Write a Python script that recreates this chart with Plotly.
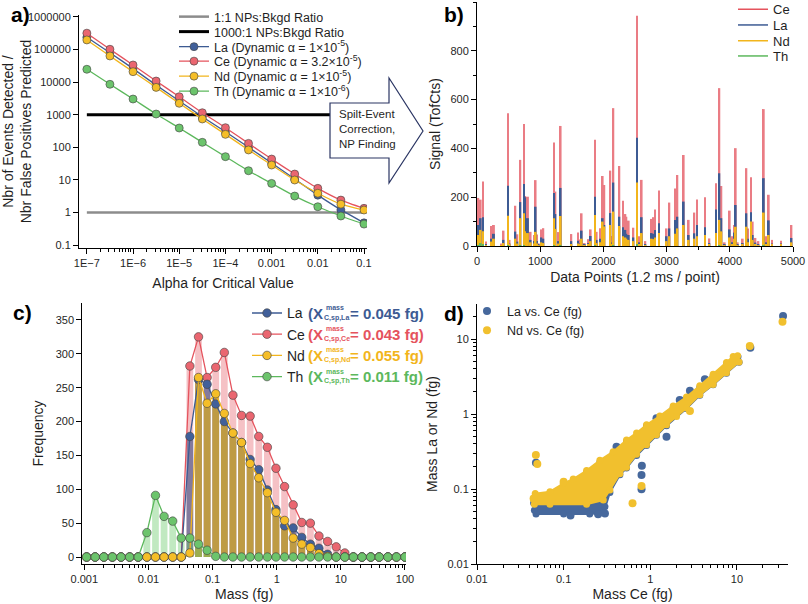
import numpy as np
import plotly.graph_objects as go

W, H = 808, 604
FONT = "Liberation Sans, Arial, sans-serif"
TXT = "#1f1f1f"


def PX(x):
    return x / W


def PY(y):
    return 1 - y / H


# ---------------- Panel a data ----------------
alpha = [1e-7, 3.16e-7, 1e-6, 3.16e-6, 1e-5, 3.16e-5, 1e-4, 3.16e-4, 1e-3, 3.16e-3, 1e-2, 3.16e-2, 1e-1]
a_la = [238000, 80000, 26000, 8100, 2650, 870, 300, 100, 33, 10.6, 3.4, 1.2, 0.48]
a_ce = [318000, 102000, 33600, 10800, 3570, 1150, 400, 132, 43.6, 15.1, 5.5, 2.4, 1.34]
a_nd = [197000, 63500, 20900, 6900, 2240, 740, 250, 83, 28.6, 9.9, 3.9, 1.8, 1.19]
a_th = [24800, 8570, 3030, 1050, 391, 142, 51.6, 19.1, 7.8, 3.19, 1.5, 0.78, 0.44]
ratio_vals = [1, 1000]
a_xticks = [1e-7, 1e-6, 1e-5, 1e-4, 1e-3, 1e-2, 1e-1]
a_xtext = ["1E\u22127", "1E\u22126", "1E\u22125", "1E\u22124", "0.001", "0.01", "0.1"]
a_yticks = [0.1, 1, 10, 100, 1000, 10000, 100000, 1000000]
a_ytext = ["0.1", "1", "10", "100", "1000", "10000", "100000", "1000000"]

# ---------------- Panel b data ----------------
b_x = [20, 58, 95, 142, 226, 268, 390, 420, 490, 515, 606, 638, 685, 743, 760, 806, 848, 901, 927, 950,
       975, 1017, 1049, 1218, 1240, 1292, 1323, 1492, 1598, 1629, 1655, 1703, 1767, 1798, 1867, 1893, 1946,
       1988, 2014, 2109, 2130, 2157, 2252, 2310, 2347, 2363, 2400, 2474, 2531, 2568, 2605, 2663, 2763, 2790,
       2816, 2879, 3000, 3043, 3133, 3170, 3270, 3349, 3438, 3481, 3607, 3676, 3782, 3834, 3866, 3919, 3998,
       4035, 4072, 4093, 4125, 4204, 4262, 4288, 4336, 4362, 4405, 4452, 4537, 4574, 4616, 4669, 4811, 4975]
b_ce = [197, 190, 264, 18, 82, 86, 10, 63, 544, 25, 165, 48, 353, 500, 205, 202, 58, 45, 270, 47,
        11, 68, 73, 424, 223, 57, 492, 49, 55, 27, 134, 12, 28, 68, 435, 58, 73,
        287, 250, 309, 41, 565, 328, 185, 131, 120, 104, 75, 944, 40, 271, 20, 111, 118,
        150, 227, 72, 178, 236, 291, 373, 107, 137, 191, 200, 31, 257, 647, 246, 15, 145,
        40, 86, 401, 15, 30, 319, 72, 282, 100, 33, 20, 561, 40, 210, 25, 22, 86]
b_la = [86, 114, 118, 8, 30, 50, 4, 25, 247, 10, 59, 18, 180, 254, 200, 114, 25, 20, 161, 20,
        5, 35, 30, 217, 131, 20, 238, 20, 22, 10, 63, 5, 12, 41, 202, 25, 30,
        114, 86, 135, 15, 260, 120, 77, 66, 50, 45, 35, 444, 15, 118, 8, 53, 50,
        66, 93, 40, 72, 107, 120, 182, 45, 52, 86, 77, 12, 150, 298, 114, 6, 68,
        15, 55, 168, 6, 12, 134, 30, 138, 45, 14, 8, 278, 15, 105, 10, 10, 33]
b_nd = [45, 66, 60, 4, 18, 30, 2, 12, 124, 6, 30, 10, 114, 134, 60, 53, 15, 10, 58, 10,
        3, 15, 12, 114, 70, 10, 123, 8, 10, 5, 30, 3, 6, 20, 127, 12, 15,
        100, 80, 86, 8, 141, 82, 40, 35, 30, 25, 20, 260, 8, 53, 4, 30, 28,
        35, 53, 20, 40, 50, 72, 86, 25, 30, 40, 45, 6, 53, 107, 60, 3, 35,
        8, 30, 79, 3, 6, 79, 15, 100, 25, 7, 4, 137, 8, 45, 5, 5, 15]
b_th = [4, 12, 8, 0, 0, 0, 0, 0, 3, 0, 0, 0, 2, 3, 0, 0, 0, 0, 0, 0,
        0, 0, 0, 2, 0, 0, 2, 0, 0, 0, 0, 0, 0, 0, 2, 0, 0,
        0, 0, 0, 0, 2, 0, 0, 0, 0, 0, 0, 5, 0, 0, 0, 0, 0,
        0, 0, 0, 0, 0, 0, 0, 0, 0, 0, 0, 0, 0, 3, 0, 0, 0,
        0, 0, 0, 0, 0, 0, 0, 0, 0, 0, 0, 2, 0, 0, 0, 0, 0]

# ---------------- Panel c data ----------------
c_mass = [0.001086, 0.001479, 0.002014, 0.002745, 0.00374, 0.00509, 0.00694, 0.00945, 0.01288, 0.01754,
          0.02389, 0.0325, 0.0443, 0.0604, 0.0822, 0.1120, 0.1525, 0.2077, 0.283, 0.3855,
          0.525, 0.715, 0.973, 1.327, 1.807, 2.46, 3.35, 4.56, 6.22, 8.47,
          11.53, 15.70, 21.4, 29.2, 39.7, 54.1, 73.6, 100.0]
c_la = [0, 0, 0, 0, 0, 0, 0, 0, 0, 0, 0, 0, 178, 262, 255, 226, 200, 183, 169, 144,
        129, 99, 70, 46, 43, 29, 19, 13, 4, 0, 0, 0, 0, 0, 0, 0, 0, 0]
c_ce = [0, 0, 0, 0, 0, 0, 0, 0, 0, 0, 0, 0, 282, 325, 265, 280, 302, 239, 209, 208,
        178, 162, 131, 104, 77, 51, 50, 31, 23, 15, 6, 0, 0, 0, 0, 0, 0, 0]
c_nd = [0, 0, 0, 0, 0, 0, 0, 0, 0, 0, 0, 0, 6, 265, 227, 241, 212, 183, 169, 138,
        117, 95, 66, 54, 28, 19, 14, 5, 1, 0, 0, 0, 0, 0, 0, 0, 0, 0]
c_th = [0, 0, 0, 0, 0, 0, 0, 36, 91, 60, 53, 28, 28, 19, 10, 1, 0, 0, 0, 0,
        0, 0, 0, 0, 0, 0, 0, 0, 0, 0, 0, 0, 0, 0, 0, 0, 0, 0]
c_thresh = ["0.045", "0.043", "0.055", "0.011"]
c_xticks = [0.001, 0.01, 0.1, 1, 10, 100]
c_xtext = ["0.001", "0.01", "0.1", "1", "10", "100"]
c_yticks = [0, 50, 100, 150, 200, 250, 300, 350]

# ---------------- Panel d data ----------------
# outline of the dense La-vs-Ce cloud (Ce, La), and of the Nd-vs-Ce cloud (Ce, Nd)
d_la_cloud_ce = [0.045, 0.0695, 0.099, 0.184, 0.262, 0.373, 0.532, 0.906, 1.29, 1.84, 2.62, 3.73, 5.32, 7.58, 10.3,
                 10.6, 7.58, 5.32, 3.73, 2.62, 1.54, 1.18, 0.906, 0.695, 0.532, 0.446, 0.342, 0.30, 0.29, 0.20,
                 0.10, 0.048, 0.046]
d_la_cloud_m = [0.065, 0.085, 0.11, 0.165, 0.225, 0.30, 0.43, 0.69, 0.90, 1.22, 1.60, 2.25, 3.25, 4.6, 5.8,
                4.9, 3.5, 2.45, 1.78, 1.18, 0.70, 0.52, 0.38, 0.28, 0.19, 0.155, 0.09, 0.058, 0.0485, 0.0465,
                0.0465, 0.0465, 0.052]
d_nd_cloud_ce = [0.045, 0.047, 0.0695, 0.099, 0.129, 0.184, 0.262, 0.373, 0.532, 0.695, 0.906, 1.29, 1.84, 2.62,
                 3.73, 5.32, 7.58, 9.06, 10.2, 10.6, 7.58, 5.32, 3.73, 2.62, 2.01, 1.54, 1.18, 0.906, 0.695,
                 0.532, 0.446, 0.342, 0.287, 0.184, 0.0695, 0.046]
d_nd_cloud_m = [0.073, 0.087, 0.092, 0.118, 0.136, 0.176, 0.242, 0.315, 0.45, 0.56, 0.72, 0.94, 1.28, 1.68,
                2.38, 3.4, 4.85, 5.85, 6.0, 4.95, 3.55, 2.48, 1.8, 1.2, 0.93, 0.72, 0.53, 0.39, 0.29,
                0.195, 0.16, 0.097, 0.0713, 0.0625, 0.0625, 0.0625]
d_la_pts_ce = [0.0479, 34.1, 14.3, 0.793, 0.80, 0.793, 4.27, 2.87, 2.19, 1.18, 0.408, 1.54, 0.30, 0.25, 0.12]
d_la_pts_m = [0.2245, 20.3, 7.66, 0.154, 0.205, 0.099, 2.9, 2.05, 1.54, 0.877, 0.366, 0.499, 0.047, 0.046, 0.0445]
d_nd_pts_ce = [0.0478, 0.0497, 33.6, 14.1, 2.87, 0.624, 0.793, 0.045, 0.10]
d_nd_pts_m = [0.284, 0.2155, 17.0, 8.07, 1.10, 0.0644, 0.1096, 0.075, 0.125]
d_ticks = [0.01, 0.1, 1, 10]
d_text = ["0.01", "0.1", "1", "10"]

COL = dict(La="#3d5b93", Ce="#e5535d", Nd="#f2b51c", Th="#5cb85c")
MFILL = dict(La="#41609a", Ce="#ea6670", Nd="#f5be28", Th="#6cc46c")

fig = go.Figure()

# ---------- panel a ----------
fig.add_trace(go.Scatter(x=[alpha[0], alpha[-1]], y=[ratio_vals[0]] * 2, mode="lines",
                         line=dict(color="#8c8c8c", width=2.5), name="1:1 NPs:Bkgd Ratio",
                         xaxis="x", yaxis="y", legend="legend"))
fig.add_trace(go.Scatter(x=[alpha[0], alpha[-1]], y=[ratio_vals[1]] * 2, mode="lines",
                         line=dict(color="black", width=3), name="1000:1 NPs:Bkgd Ratio",
                         xaxis="x", yaxis="y", legend="legend2"))
a_series = [("La", a_la, "1\u00d710<sup>-5</sup>", "legend3"),
            ("Ce", a_ce, "3.2\u00d710<sup>-5</sup>", "legend4"),
            ("Nd", a_nd, "1\u00d710<sup>-5</sup>", "legend5"),
            ("Th", a_th, "1\u00d710<sup>-6</sup>", "legend6")]
for el, vals, dyn, lg in a_series:
    fig.add_trace(go.Scatter(x=alpha, y=vals, mode="lines+markers", line=dict(color=COL[el], width=1.3, shape="spline", smoothing=0.6),
                             marker=dict(size=8, color=MFILL[el], line=dict(color="rgba(70,70,70,0.8)", width=0.8)),
                             name=f"{el} (Dynamic \u03b1 = {dyn})", xaxis="x", yaxis="y", legend=lg))

# ---------- panel b ----------
for el, vals in [("Ce", b_ce), ("La", b_la), ("Nd", b_nd), ("Th", b_th)]:
    fig.add_trace(go.Bar(x=b_x, y=vals, width=30, marker=dict(color=COL[el] if el != "Ce" else "#ea7c84", line=dict(width=0)),
                         xaxis="x2", yaxis="y2", showlegend=False))
for el, lg in [("Ce", "legend7"), ("La", "legend8"), ("Nd", "legend9"), ("Th", "legend10")]:
    fig.add_trace(go.Scatter(x=[None], y=[None], mode="lines", line=dict(color=COL[el], width=1.5), name=el,
                             xaxis="x2", yaxis="y2", legend=lg))

# ---------- panel c ----------
c_logx = np.log10(c_mass)
BARC = dict(Ce="rgba(230,100,110,0.40)", La="rgba(55,75,130,0.60)", Nd="rgba(215,170,30,0.70)", Th="rgba(100,200,100,0.40)")
for el, vals in [("Ce", c_ce), ("La", c_la), ("Nd", c_nd), ("Th", c_th)]:
    fig.add_trace(go.Bar(x=c_logx, y=vals, width=0.105, marker=dict(color=BARC[el], line=dict(width=0)),
                         xaxis="x3", yaxis="y3", showlegend=False))
rank = dict(La=1, Ce=2, Nd=3, Th=4)
for el, vals in [("Ce", c_ce), ("La", c_la), ("Nd", c_nd), ("Th", c_th)]:
    fig.add_trace(go.Scatter(x=c_mass, y=vals, mode="lines+markers", line=dict(color=COL[el], width=1.3),
                             marker=dict(size=8.5, color=MFILL[el], line=dict(color="rgba(70,70,70,0.8)", width=0.8)),
                             name=el, legendrank=rank[el], xaxis="x5", yaxis="y3", legend="legend11"))

# ---------- panel d ----------
DLA, DND = "#46689c", "#f1c02e"
fig.add_trace(go.Scatter(x=d_la_cloud_ce, y=d_la_cloud_m, mode="lines+markers", fill="toself", fillcolor=DLA,
                         line=dict(color=DLA, width=2), marker=dict(size=7, color=DLA),
                         xaxis="x4", yaxis="y4", showlegend=False))
fig.add_trace(go.Scatter(x=d_la_pts_ce, y=d_la_pts_m, mode="markers", marker=dict(size=8, color=DLA),
                         name="La vs. Ce (fg)", legendrank=1, xaxis="x4", yaxis="y4", legend="legend12"))
fig.add_trace(go.Scatter(x=d_nd_cloud_ce, y=d_nd_cloud_m, mode="lines+markers", fill="toself", fillcolor=DND,
                         line=dict(color=DND, width=2), marker=dict(size=7, color=DND),
                         xaxis="x4", yaxis="y4", showlegend=False))
fig.add_trace(go.Scatter(x=d_nd_pts_ce, y=d_nd_pts_m, mode="markers", marker=dict(size=8, color=DND),
                         name="Nd vs. Ce (fg)", legendrank=2, xaxis="x4", yaxis="y4", legend="legend12"))


def ax(**kw):
    d = dict(showline=True, linecolor="black", linewidth=1, ticks="outside", ticklen=5, tickwidth=1,
             tickcolor="black", showgrid=False, zeroline=False, automargin=False,
             tickfont=dict(size=11, family=FONT, color=TXT),
             title_font=dict(size=14, family=FONT, color=TXT))
    d.update(kw)
    return d


def logminor(e0, e1):
    return [m * 10.0 ** e for e in range(e0, e1 + 1) for m in range(2, 10)]


def minor_arr(vals):
    return dict(tickmode="array", tickvals=vals, ticks="outside", ticklen=3, tickwidth=1, tickcolor="black")


def leg_one(xtext, ycenter, size):
    return dict(x=(xtext - 40) / W, y=1 - ycenter / H, xanchor="left",
                yanchor="middle", bgcolor="rgba(0,0,0,0)", borderwidth=0,
                font=dict(family=FONT, size=size, color=TXT), itemwidth=30)


def leg_multi(xtext, ytop, size):
    return dict(x=(xtext - 40) / W, y=1 - ytop / H, xanchor="left",
                yanchor="top", bgcolor="rgba(0,0,0,0)", borderwidth=0, tracegroupgap=0,
                font=dict(family=FONT, size=size, color=TXT), itemwidth=30)


layout = dict(
    width=W, height=H, margin=dict(l=0, r=0, t=0, b=0, autoexpand=False), paper_bgcolor="white", plot_bgcolor="white",
    barmode="overlay", showlegend=True, font=dict(family=FONT, size=11, color=TXT),
    # panel a
    xaxis=ax(domain=[PX(79), PX(367)], anchor="y", type="log", range=[-7.17, -0.935], tickmode="array",
             tickvals=a_xticks, ticktext=a_xtext, minor=minor_arr(logminor(-7, -2)),
             title=dict(text="Alpha for Critical Value", standoff=9)),
    yaxis=ax(domain=[PY(248), PY(15)], anchor="x", type="log", range=[-1.09, 6.06], tickmode="array",
             tickvals=a_yticks, ticktext=a_ytext,
             title=dict(text="Nbr of Events Detected /<br>Nbr False Positives Predicted", standoff=4)),
    # panel b
    xaxis2=ax(domain=[PX(477), PX(793)], anchor="y2", range=[0, 5000], tickmode="array",
              tickvals=[0, 1000, 2000, 3000, 4000, 5000],
              minor=dict(dtick=500, tick0=0, ticks="outside", ticklen=3, tickcolor="black"),
              title=dict(text="Data Points (1.2 ms / point)", standoff=5)),
    yaxis2=ax(domain=[PY(246), PY(2)], anchor="x2", range=[0, 1000], tickmode="array",
              tickvals=[0, 200, 400, 600, 800],
              minor=dict(dtick=100, tick0=0, ticks="outside", ticklen=3, tickcolor="black"),
              title=dict(text="Signal (TofCts)", standoff=6)),
    # panel c (hidden linear base axis for bars + visible log axis)
    xaxis3=dict(domain=[PX(82.3), PX(406)], anchor="y3", range=[-3.031, 2.016], visible=False),
    xaxis5=ax(overlaying="x3", anchor="y3", type="log", range=[-3.031, 2.016], tickmode="array",
              tickvals=c_xticks, ticktext=c_xtext, minor=minor_arr(logminor(-3, 1)),
              title=dict(text="Mass (fg)", standoff=4)),
    yaxis3=ax(domain=[PY(564), PY(303)], anchor="x3", range=[-10.3, 375], tickmode="array",
              tickvals=c_yticks, title=dict(text="Frequency", standoff=8)),
    # panel d
    xaxis4=ax(domain=[PX(477), PX(788)], anchor="y4", type="log", range=[-2, 1.59], tickmode="array",
              tickvals=d_ticks, ticktext=d_text, minor=minor_arr(logminor(-2, 1)),
              title=dict(text="Mass Ce (fg)", standoff=4)),
    yaxis4=ax(domain=[PY(564), PY(304)], anchor="x4", type="log", range=[-2, 1.467], tickmode="array",
              tickvals=d_ticks, ticktext=d_text, minor=minor_arr(logminor(-2, 1)),
              title=dict(text="Mass La or Nd (fg)", standoff=6)),
    # legends
    legend=leg_one(214, 17, 12.5),
    legend2=leg_one(214, 32, 12.5),
    legend3=leg_one(214, 47, 12.5),
    legend4=leg_one(214, 61.5, 12.5),
    legend5=leg_one(214, 76.5, 12.5),
    legend6=leg_one(214, 91.5, 12.5),
    legend7=leg_one(773, 9.3, 13),
    legend8=leg_one(773, 25, 13),
    legend9=leg_one(773, 40.7, 13),
    legend10=leg_one(773, 56, 13),
    legend11=leg_multi(287, 297.4, 14),
    legend12=leg_multi(507, 296.4, 12.5),
)
fig.update_layout(**layout)

# arrow in panel a
arrow = [(330, 103), (389, 103), (389, 78), (423, 131), (389, 183), (389, 158), (330, 158)]
path = "M " + " L ".join(f"{PX(x):.5f},{PY(y):.5f}" for x, y in arrow) + " Z"
fig.add_shape(type="path", path=path, xref="paper", yref="paper", fillcolor="white",
              line=dict(color="#2a3563", width=1.2), layer="above")

ann = []
ann.append(dict(text="Spilt-Event<br>Correction,<br>NP Finding", x=PX(337), y=PY(129), xref="paper", yref="paper",
                xanchor="left", yanchor="middle", align="left", showarrow=False,
                font=dict(family=FONT, size=11.5, color=TXT)))
for lab, xl, yc in [("a)", 9, 15), ("b)", 442, 14), ("c)", 11, 312.5), ("d)", 442, 313)]:
    ann.append(dict(text=f"<b>{lab}</b>", x=PX(xl), y=PY(yc), xref="paper", yref="paper", xanchor="left",
                    yanchor="middle", showarrow=False, font=dict(family=FONT, size=21, color="black")))

# coloured threshold labels of panel c legend
rows = [("La", 313), ("Ce", 334.2), ("Nd", 355.4), ("Th", 376.6)]
for (el, yc), val in zip(rows, c_thresh):
    col = COL[el]
    ann.append(dict(text="<b>(X</b>", x=PX(306), y=PY(yc), xref="paper", yref="paper", xanchor="left",
                    yanchor="middle", showarrow=False, font=dict(family=FONT, size=15, color=col)))
    ann.append(dict(text="<b>mass</b>", x=PX(323.5), y=PY(yc - 5.5), xref="paper", yref="paper", xanchor="left",
                    yanchor="middle", showarrow=False, font=dict(family=FONT, size=7, color=col)))
    ann.append(dict(text=f"<b>C,sp,{el}</b>", x=PX(322), y=PY(yc + 4.5), xref="paper", yref="paper",
                    xanchor="left", yanchor="middle", showarrow=False, font=dict(family=FONT, size=7, color=col)))
    ann.append(dict(text=f"<b>= {val} fg)</b>", x=PX(347.5), y=PY(yc), xref="paper", yref="paper", xanchor="left",
                    yanchor="middle", showarrow=False, font=dict(family=FONT, size=15, color=col)))
fig.update_layout(annotations=ann)

fig.write_html("out.html", config={"displayModeBar": False},
               post_script="document.body.style.margin='0';document.body.style.padding='0';")
